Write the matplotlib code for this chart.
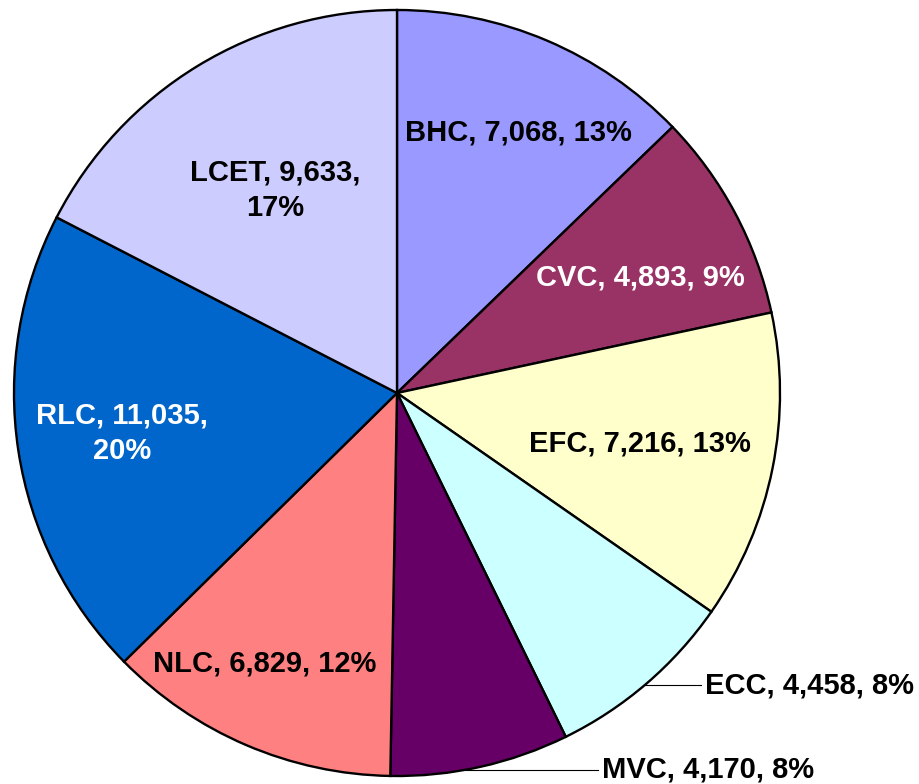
import numpy as np
import matplotlib.pyplot as plt

# data
names = ['BHC', 'CVC', 'EFC', 'ECC', 'MVC', 'NLC', 'RLC', 'LCET']
counts = [7068, 4893, 7216, 4458, 4170, 6829, 11035, 9633]
colors = ['#9999FF', '#993366', '#FFFFCC', '#CCFFFF', '#660066', '#FF8080', '#0066CC', '#CCCCFF']
text_colors = ['black', 'white', 'black', 'black', 'black', 'black', 'white', 'black']

plt.rcParams['font.family'] = ['Liberation Sans', 'DejaVu Sans']

fig = plt.figure(figsize=(9.2, 7.84), dpi=100)
ax = fig.add_axes([0, 0, 1, 1])

cx, cy, R = 397, 391, 383
wedges, _ = ax.pie(counts, colors=colors, startangle=90, counterclock=False,
                   center=(cx, cy), radius=R, frame=True,
                   wedgeprops=dict(edgecolor='black', linewidth=1.7))
ax.set_xlim(0, 920)
ax.set_ylim(0, 784)
ax.axis('off')

total = sum(counts)
labels = []
for n, c in zip(names, counts):
    pct = round(100 * c / total)
    labels.append(f'{n}, {c:,}, {pct}%')
labels[7] = f'LCET, {counts[7]:,},\n{round(100*counts[7]/total)}%'
labels[6] = f'RLC, {counts[6]:,},\n{round(100*counts[6]/total)}%'

fs = 21
# label placement (offset from centre), inside labels
inside = {0: (121, 261), 1: (243, 115), 2: (243, -50), 5: (-132, -270),
          6: (-275, -40), 7: (-122, 203)}
for i, (dx, dy) in inside.items():
    ax.text(cx + dx, cy + dy, labels[i], ha='center', va='center',
            fontsize=fs, fontweight='bold', color=text_colors[i],
            linespacing=1.35)

# outside labels with leader lines
for i, (tx, ty) in {3: (705, 784 - 685), 4: (602, 784 - 770)}.items():
    w = wedges[i]
    mid = np.deg2rad((w.theta1 + w.theta2) / 2)
    ex = cx + np.sqrt(max(R**2 - (ty - cy)**2, 0))
    ax.plot([ex, tx - 4], [ty, ty], color='black', lw=0.8)
    ax.text(tx, ty, labels[i], ha='left', va='center', fontsize=fs,
            fontweight='bold', color='black')

fig.savefig('out.png', dpi=100)
